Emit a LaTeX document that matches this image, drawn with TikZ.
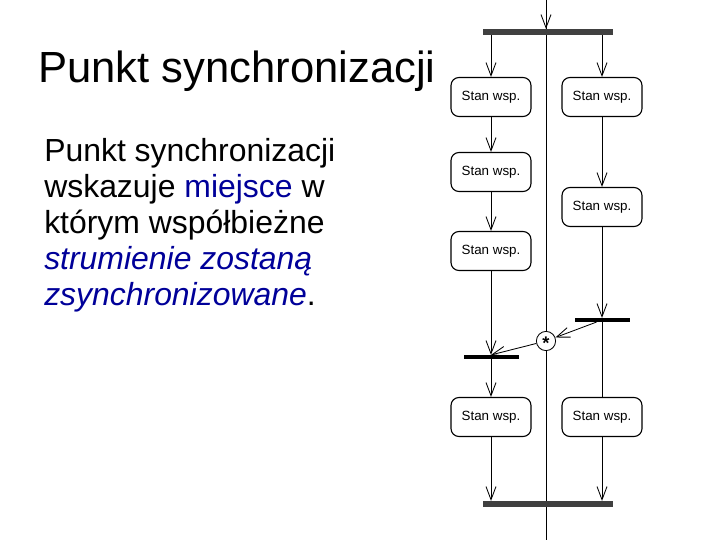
\documentclass[tikz,border=0pt]{standalone}
\usepackage{fontspec}
\setmainfont{Liberation Sans}
\usepackage{tikz}
\usetikzlibrary{arrows.meta,positioning}
\definecolor{slideBlue}{HTML}{000099}
\definecolor{barGray}{HTML}{404040}
\tikzset{
    stateBox/.style={
        rectangle,
        draw,
        rounded corners=0.2cm,
        minimum width=2cm,
        minimum height=0.975cm,
        line width=0.8pt,
        fill=white,
        inner sep=0pt,
        font=\fontsize{9.5}{11}\selectfont
    },
    % Bars
    forkBar/.style={rectangle, fill=barGray, minimum width=3.25cm, minimum height=0.14cm, inner sep=0pt},
    syncBar/.style={rectangle, fill=black, minimum width=1.375cm, minimum height=0.09cm, inner sep=0pt},
    syncPoint/.style={circle, draw, fill=white, minimum size=0.48cm, inner sep=0pt, line width=0.6pt},
    % Arrows
    flow/.style={-{Straight Barb[length=0.33cm,width=0.25cm]}, line width=0.6pt},
    plainFlow/.style={line width=0.6pt},
    lane/.style={line width=0.6pt}
}

\begin{document}
\begin{tikzpicture}[x=0.025cm, y=-0.025cm]
    \useasboundingbox (0,0) rectangle (720,540);

    \node[anchor=base west, inner sep=0pt, font=\fontsize{31}{36}\selectfont] (title) at (38,82) {Punkt synchronizacji};
    \node[anchor=base west, inner sep=0pt, align=left, font=\fontsize{22.7}{25.5}\selectfont] (body) at (44,305)
        {Punkt synchronizacji\\
         wskazuje \textcolor{slideBlue}{miejsce} w\\
         którym współbieżne\\
         \textcolor{slideBlue}{\itshape strumienie zostaną}\\
         \textcolor{slideBlue}{\itshape zsynchronizowane}.};

    % swimlane divider
    \coordinate (laneTop) at (546,0);
    \coordinate (laneBot) at (546,540);
    \draw[lane] (laneTop) -- (laneBot);

    \node[forkBar] (fork) at (548,32) {};
    \node[stateBox] (leftA) at (491,97) {Stan wsp.};
    \node[stateBox] (rightA) at (602,97) {Stan wsp.};
    \node[stateBox] (leftB) at (491,172) {Stan wsp.};
    \node[stateBox] (leftC) at (491,251) {Stan wsp.};
    \node[stateBox] (rightB) at (602,207) {Stan wsp.};
    \node[syncBar] (rightSync) at (602,320) {};
    \node[syncBar] (leftSync) at (491,357) {};
    \node[syncPoint] (sync) at (546,341) {\raisebox{-0.6em}[0pt][0pt]{\fontsize{13}{13}\selectfont\bfseries *}};
    \node[stateBox] (leftD) at (491,417) {Stan wsp.};
    \node[stateBox] (rightD) at (602,417) {Stan wsp.};
    \node[forkBar] (join) at (548,504) {};

    \draw[flow] (laneTop) -- (fork.north -| laneTop);
    \draw[flow] (fork.south -| leftA) -- (leftA);
    \draw[flow] (fork.south -| rightA) -- (rightA);
    \draw[flow] (leftA) -- (leftB);
    \draw[flow] (leftB) -- (leftC);
    \draw[flow] (leftC) -- (leftSync.north);
    \draw[flow] (rightA) -- (rightB);
    \draw[flow] (rightB) -- (rightSync.north);
    \draw[flow] (rightSync) -- (sync);
    \draw[flow] (sync) -- (leftSync.north);
    \draw[flow] (leftSync) -- (leftD);
    \draw[plainFlow] (rightSync) -- (rightD);
    \draw[flow] (leftD) -- (join.north -| leftD);
    \draw[flow] (rightD) -- (join.north -| rightD);
\end{tikzpicture}
\end{document}
